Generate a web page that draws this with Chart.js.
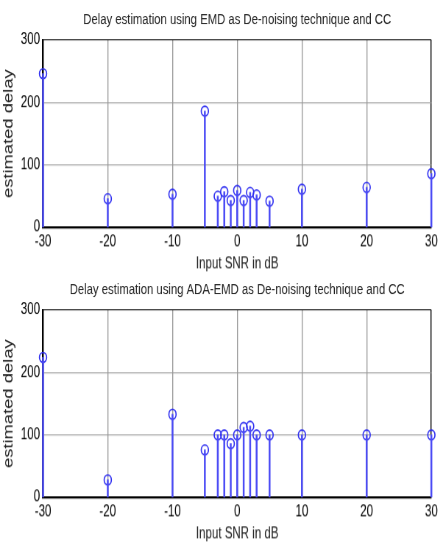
<!DOCTYPE html>
<html lang="en">
  <head>
    <meta charset="UTF-8" />
    <title>Delay estimation</title>
    <script src="https://cdn.jsdelivr.net/npm/chart.js@4.4.1/dist/chart.umd.min.js"></script>
    <style>
      body {
        margin: 0;
        background-color: white;
      }
      .wrap {
        position: relative;
        width: 443px;
        height: 549px;
        overflow: hidden;
      }
      /* the original figure is stretched vertically, so draw flat and stretch */
      .wrap canvas {
        position: absolute;
        left: 0;
        transform: scaleY(1.36);
        transform-origin: 0 0;
      }
      #emdChart {
        top: 0;
      }
      #adaChart {
        top: 270px;
      }
    </style>
  </head>

  <body>
    <div class="wrap">
      <canvas id="emdChart"></canvas>
      <canvas id="adaChart"></canvas>
    </div>

    <script>
      // input SNR (dB) on x
      const snr = [-30, -20, -10, -5, -3, -2, -1, 0, 1, 2, 3, 5, 10, 20, 30];
      // estimated delay, EMD de-noising
      const emdDelay = [246, 46, 53, 186, 50, 57, 43, 59, 43, 56, 52, 42, 61, 64, 86];
      // estimated delay, ADA-EMD de-noising
      const adaEmdDelay = [224, 28, 133, 76, 100, 100, 86, 100, 112, 114, 100, 100, 100, 100, 100];

      const xTicks = [-30, -20, -10, 0, 10, 20, 30];
      const yTicks = [0, 100, 200, 300];

      const STRETCH = 1.36;
      const W = 443;
      const H = 201;
      const sans = "'Liberation Sans', Arial, sans-serif";

      function gridColor(ctx, edges) {
        if (!ctx.tick) return "#999";
        return edges.includes(ctx.tick.value) ? "#000" : "#999";
      }

      function makeChart(id, values, title) {
        const canvas = document.getElementById(id);
        canvas.width = W;
        canvas.height = H;
        const pts = snr.map(function (x, i) {
          return { x: x, y: values[i] };
        });
        return new Chart(canvas, {
          type: "scatter",
          data: {
            datasets: [
              {
                type: "bar",
                data: pts,
                backgroundColor: "#4b4bf5",
                barThickness: 1.2,
                clip: false,
              },
              {
                type: "scatter",
                data: pts,
                pointStyle: "circle",
                pointRadius: 3.6,
                borderWidth: 1.2,
                borderColor: "#2a2af0",
                backgroundColor: "rgba(0,0,0,0)",
                clip: false,
              },
            ],
          },
          options: {
            responsive: false,
            animation: false,
            devicePixelRatio: STRETCH,
            layout: { padding: { top: 0, right: 12, left: 0, bottom: 0 } },
            plugins: {
              legend: { display: false },
              tooltip: { enabled: false },
              title: {
                display: true,
                fullSize: false,
                text: title,
                color: "#222",
                font: { family: sans, size: 11.3, weight: "normal" },
                padding: { top: 8, bottom: 7.8 },
              },
            },
            scales: {
              x: {
                type: "linear",
                min: -30,
                max: 30,
                offset: false,
                afterBuildTicks: function (s) {
                  s.ticks = xTicks.map(function (v) { return { value: v }; });
                },
                afterFit: function (s) {
                  s.height = 34;
                },
                grid: {
                  color: function (c) { return gridColor(c, [-30, 30]); },
                  drawTicks: false,
                  offset: false,
                  lineWidth: 1,
                },
                border: { color: "#000", width: 1.6 },
                ticks: {
                  color: "#000",
                  padding: 4,
                  font: { family: sans, size: 11.5 },
                },
                title: {
                  display: true,
                  text: "Input SNR in dB",
                  color: "#222",
                  font: { family: sans, size: 11.5 },
                  padding: { top: 0, bottom: 0 },
                },
              },
              y: {
                min: 0,
                max: 300,
                afterBuildTicks: function (s) {
                  s.ticks = yTicks.map(function (v) { return { value: v }; });
                },
                afterFit: function (s) {
                  s.width = 43;
                },
                grid: {
                  color: function (c) { return gridColor(c, [300]); },
                  drawTicks: false,
                  lineWidth: 0.8,
                },
                border: { color: "#000", width: 1.5 },
                ticks: {
                  color: "#000",
                  padding: 3,
                  font: { family: sans, size: 11.5 },
                },
                title: {
                  display: true,
                  text: "estimated delay",
                  color: "#222",
                  font: { family: sans, size: 13.5 },
                  padding: { top: 1, bottom: 0 },
                },
              },
            },
          },
        });
      }

      makeChart("emdChart", emdDelay, "Delay estimation using EMD as De-noising technique and CC");
      makeChart("adaChart", adaEmdDelay, "Delay estimation using ADA-EMD as De-noising technique and CC");
    </script>
  </body>
</html>
